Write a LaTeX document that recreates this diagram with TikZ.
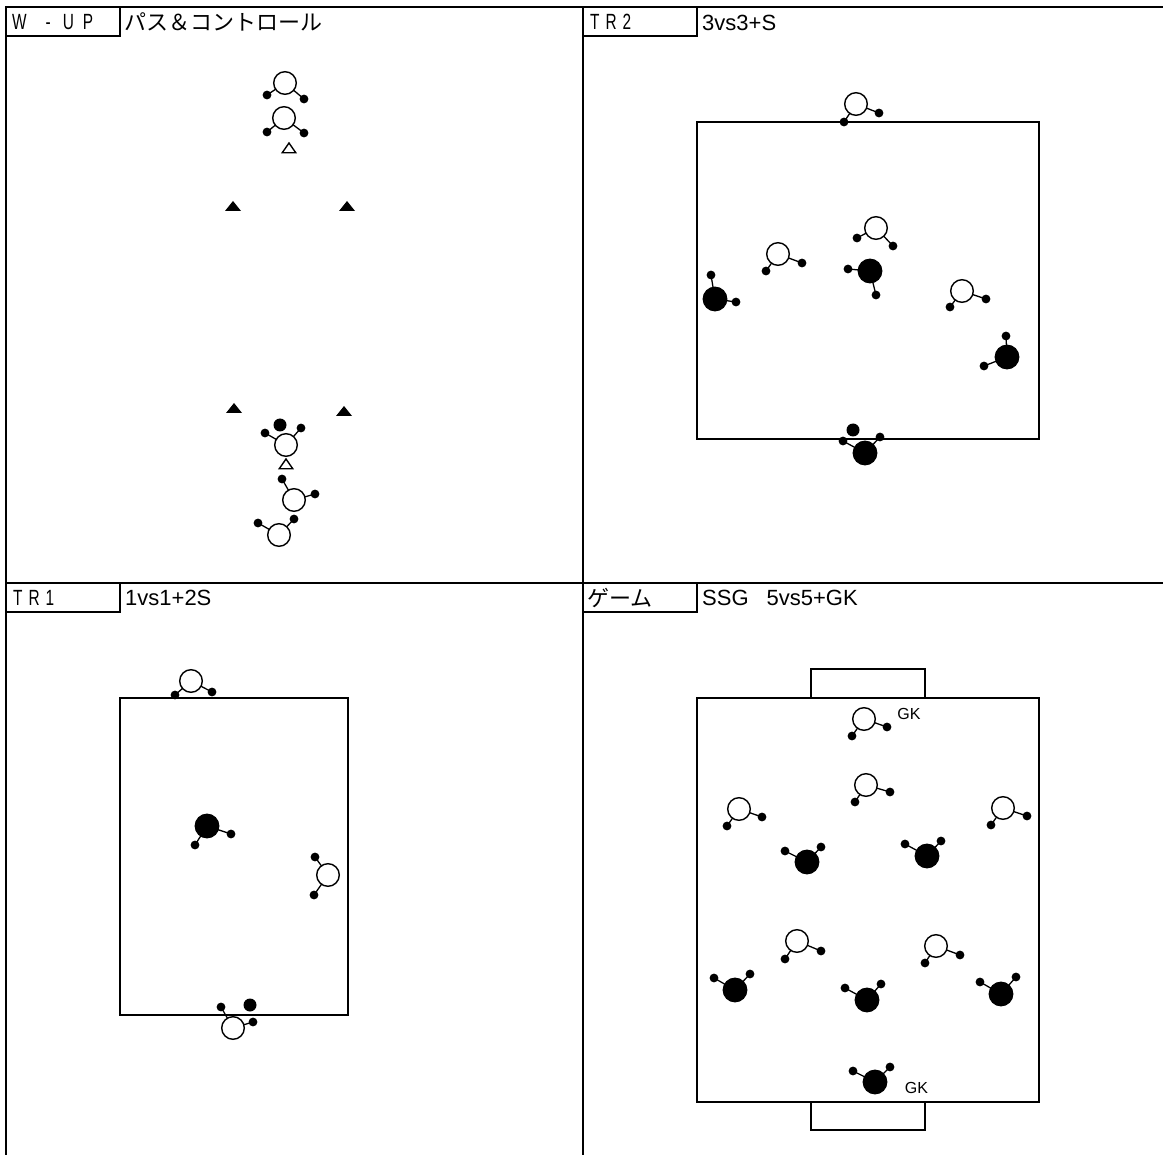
\documentclass[tikz,border=0pt]{standalone}
\usepackage{fontspec}
\setmainfont{Liberation Sans}
\newfontfamily\cjk{Noto Sans CJK JP}
\newfontfamily\narrowf[FakeStretch=0.7]{Liberation Sans}
\tikzset{
  x=1pt,y=-1pt,
  frameline/.style={draw=black,line width=1.8pt},
  fieldline/.style={draw=black,line width=1.6pt},
  limb/.style={draw=black,line width=1.3pt},
  txt/.style={anchor=west,inner sep=0pt,font=\fontsize{22}{22}\selectfont},
  cjktxt/.style={anchor=west,inner sep=0pt,font=\cjk\fontsize{22}{22}\selectfont},
  tag/.style={anchor=west,inner sep=0pt,font=\narrowf\fontsize{22}{22}\selectfont},
  gk/.style={anchor=center,inner sep=0pt,font=\fontsize{16}{16}\selectfont},
}
\newcommand{\plr}[8]{%
  \draw[limb] (#1,#2) -- (#5,#6);
  \draw[limb] (#1,#2) -- (#7,#8);
  \fill (#5,#6) circle (4.4pt);
  \fill (#7,#8) circle (4.4pt);
  \draw[draw=black,line width=1.4pt,fill=#3] (#1,#2) circle (#4pt);
}
\newcommand{\whiteplr}[6]{\plr{#1}{#2}{white}{11.3}{#3}{#4}{#5}{#6}}
\newcommand{\blackplr}[6]{\plr{#1}{#2}{black}{11.7}{#3}{#4}{#5}{#6}}
\newcommand{\conefill}[2]{\fill (#1-8,#2+5) -- (#1,#2-5) -- (#1+8,#2+5) -- cycle;}
\newcommand{\coneopen}[2]{\draw[line width=1.4pt,fill=white] (#1-6.8,#2+4.8) -- (#1,#2-5) -- (#1+6.8,#2+4.8) -- cycle;}
\newcommand{\ball}[2]{\fill (#1,#2) circle (6.5pt);}
\begin{document}
\begin{tikzpicture}
\useasboundingbox (0,0) rectangle (1163,1155);
\fill[white] (0,0) rectangle (1163,1155);
% frame
\draw[frameline] (6,6.1) -- (6,1155);
\draw[frameline] (583,6.1) -- (583,1155);
\draw[frameline] (5.1,7) -- (1163,7);
\draw[frameline] (6,583) -- (1163,583);
% heading boxes
\draw[frameline] (6,36) -| (120,7);
\draw[frameline] (583,36) -| (697,7);
\draw[frameline] (6,612) -| (120,583);
\draw[frameline] (583,612) -| (697,583);
% headings
\node[tag] at (12,22) {W\hspace{19pt}-\hspace{12pt}U\hspace{9pt}P};
\node[cjktxt] at (124,22) {パス＆コントロール};
\node[tag] at (590,22) {T\hspace{6pt}R\hspace{6pt}2};
\node[txt] at (702,23) {3vs3+S};
\node[tag] at (13,598) {T\hspace{6pt}R\hspace{6pt}1};
\node[txt] at (125,598) {1vs1+2S};
\node[cjktxt] at (587,598) {ゲーム};
\node[txt] at (702,598) {SSG\hspace{18pt}5vs5+GK};
% W-UP
\whiteplr{285}{83}{267}{95}{304}{99}
\whiteplr{284}{118}{267}{132}{304}{133}
\coneopen{289}{148}
\conefill{233}{206}
\conefill{347}{206}
\conefill{234}{408}
\conefill{344}{411}
\ball{280}{425}
\whiteplr{286}{445}{265}{433}{301}{428}
\coneopen{286}{464}
\whiteplr{294}{500}{282}{479}{315}{494}
\whiteplr{279}{535}{258}{523}{294}{519}
% TR2
\draw[fieldline] (697,122) rectangle (1039,439);
\whiteplr{856}{104}{844}{122}{879}{113}
\whiteplr{876}{228}{857}{238}{893}{246}
\whiteplr{778}{254}{766}{271}{802}{263}
\blackplr{870}{271}{848}{269}{876}{295}
\blackplr{715}{299}{711}{275}{736}{302}
\whiteplr{962}{291}{950}{307}{986}{299}
\blackplr{1007}{357}{1006}{336}{984}{366}
\ball{853}{430}
\blackplr{865}{453}{843}{441}{880}{437}
% TR1
\draw[fieldline] (120,698) rectangle (348,1015);
\whiteplr{191}{681}{175}{695}{212}{692}
\blackplr{207}{826}{195}{845}{231}{834}
\whiteplr{328}{875}{315}{857}{314}{895}
\ball{250}{1005}
\whiteplr{233}{1028}{221}{1007}{253}{1022}
% Game
\draw[fieldline] (697,698) rectangle (1039,1102);
\draw[fieldline] (811,698) |- (925,669) -- (925,698);
\draw[fieldline] (811,1102) |- (925,1130) -- (925,1102);
\whiteplr{864}{719}{852}{736}{887}{727}
\node[gk] at (909,714) {GK};
\whiteplr{866}{785}{855}{802}{890}{792}
\whiteplr{739}{809}{727}{826}{762}{817}
\whiteplr{1003}{808}{991}{825}{1027}{816}
\blackplr{807}{862}{785}{851}{821}{847}
\blackplr{927}{856}{905}{844}{941}{841}
\whiteplr{797}{941}{785}{959}{821}{951}
\whiteplr{936}{946}{925}{963}{960}{955}
\blackplr{735}{990}{714}{978}{750}{974}
\blackplr{867}{1000}{845}{988}{881}{984}
\blackplr{1001}{994}{980}{982}{1016}{977}
\blackplr{875}{1082}{853}{1071}{890}{1067}
\node[gk] at (916.5,1088) {GK};
\end{tikzpicture}
\end{document}
